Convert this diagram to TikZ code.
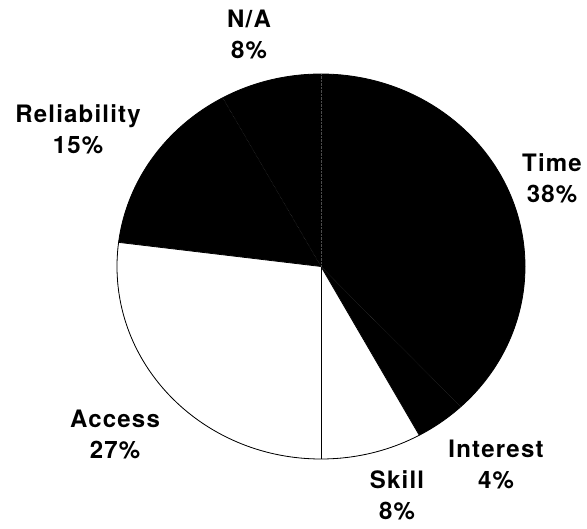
\documentclass[tikz,border=0pt]{standalone}
\usepackage{xcolor}
\usepackage{fontspec}
\setmainfont{TeX Gyre Heros}[LetterSpace=5]

\begin{document}
\begin{tikzpicture}[x=1pt,y=-1pt]
	% Parameters
	\def\cx{321}
	\def\cy{266.5}
	\def\rx{204}
	\def\ry{192.5}
	\tikzset{lbl/.style={align=center, inner sep=0pt, font=\bfseries\fontsize{24}{31}\selectfont}}
	\tikzset{seam/.style={black!70, line width=0.4pt, densely dotted}}
	
	\useasboundingbox (0,0) rectangle (587,529);
	\coordinate (c) at (\cx,\cy);
	
	%slices (Time, Interest, Reliability, N/A are black)
	\fill[black] (c) ellipse[x radius=\rx, y radius=\ry];
	\fill[white] (c) -- ++(61.2:{\rx} and {\ry}) arc[start angle=61.2, end angle=90, x radius=\rx, y radius=\ry] -- cycle;
	\fill[white] (c) -- ++(90:{\rx} and {\ry}) arc[start angle=90, end angle=187.2, x radius=\rx, y radius=\ry] -- cycle;
	
	%edges
	\draw[thick] (c) ellipse[x radius=\rx, y radius=\ry];
	\draw[thick] (c) -- ++(90:{\rx} and {\ry});
	\draw[thick] (c) -- ++(61.2:{\rx} and {\ry});
	\draw[thick] (c) -- ++(187.2:{\rx} and {\ry});
	\draw[seam] (c) -- ++(-90:{\rx} and {\ry});
	\draw[seam] (c) -- ++(241.2:{\rx} and {\ry});
	\draw[seam] (c) -- ++(46.8:{\rx} and {\ry});
	
	%labels
	\node[lbl] (na) at (249,34) {N/A\\8\%};
	\node[lbl] (reliability) at (78,129.5) {Reliability\\15\%};
	\node[lbl] (time) at (552,178.5) {Time\\38\%};
	\node[lbl] (access) at (115,434) {Access\\27\%};
	\node[lbl] (skill) at (397,495) {Skill\\8\%};
	\node[lbl] (interest) at (496,464.5) {Interest\\4\%};
\end{tikzpicture}
\end{document}
